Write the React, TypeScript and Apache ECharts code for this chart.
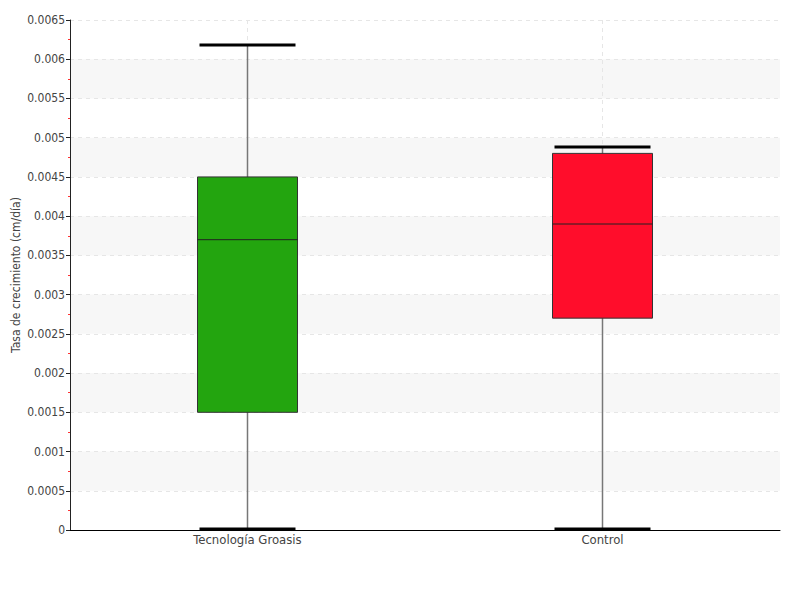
import React, { useEffect, useRef } from "react";
import * as echarts from "echarts";

const categories = ["Tecnología Groasis", "Control"];
const minValues = [0, 0];
const q1Values = [0.0015, 0.0027];
const medianValues = [0.0037, 0.0039];
const q3Values = [0.0045, 0.0048];
const maxValues = [0.00618, 0.00488];
const boxColors = ["#23a50f", "#ff0d2b"];

const FONT = "'Liberation Sans Narrow', 'DejaVu Sans Condensed', 'Roboto', sans-serif";

export default function App() {
  const ref = useRef<HTMLDivElement>(null);
  useEffect(() => {
    if (!ref.current) return;
    const chart = echarts.init(ref.current, undefined, { renderer: "svg" });
    const data = categories.map((c, i) => [i, minValues[i], q1Values[i], medianValues[i], q3Values[i], maxValues[i]]);
    chart.setOption({
      animation: false,
      grid: { left: 70, right: 20, top: 20, bottom: 70, containLabel: false, outerBoundsMode: "none" },
      xAxis: {
        type: "category",
        data: categories,
        axisLine: { lineStyle: { color: "#000", width: 1 } },
        axisTick: { show: false },
        axisLabel: { color: "#444", fontFamily: FONT, fontSize: 13, margin: 3 },
        splitLine: { show: true, alignWithLabel: true, lineStyle: { color: "#e6e6e6", type: [4, 4] } },
      },
      yAxis: {
        type: "value",
        min: 0,
        max: 0.0065,
        interval: 0.0005,
        name: "Tasa de crecimiento (cm/día)",
        nameLocation: "middle",
        nameGap: 48,
        nameMoveOverlap: false,
        nameTextStyle: { color: "#444", fontFamily: FONT, fontSize: 12 },
        axisLine: { show: true, lineStyle: { color: "#222" } },
        axisTick: { show: true, length: 4, lineStyle: { color: "#222" } },
        minorTick: { show: true, splitNumber: 2, length: 2, lineStyle: { color: "#ff3333" } },
        axisLabel: { color: "#444", fontFamily: FONT, fontSize: 12, margin: 5 },
        splitLine: { show: true, lineStyle: { color: "#e6e6e6", type: [4, 4] } },
        splitArea: { show: true, areaStyle: { color: ["rgba(255,255,255,0)", "#f7f7f7"] } },
      },
      series: [
        {
          type: "custom",
          data,
          renderItem: (params: any, api: any) => {
            const idx = api.value(0);
            const pMin = api.coord([idx, api.value(1)]);
            const pQ1 = api.coord([idx, api.value(2)]);
            const pMed = api.coord([idx, api.value(3)]);
            const pQ3 = api.coord([idx, api.value(4)]);
            const pMax = api.coord([idx, api.value(5)]);
            const x = pMed[0];
            const half = 50;
            const capHalf = 48;
            return {
              type: "group",
              children: [
                { type: "line", shape: { x1: x, y1: pMax[1], x2: x, y2: pMin[1] }, style: { stroke: "#777", lineWidth: 1.5 } },
                { type: "rect", shape: { x: x - half, y: pQ3[1], width: 2 * half, height: pQ1[1] - pQ3[1] }, style: { fill: boxColors[idx], stroke: "#333", lineWidth: 1 } },
                { type: "line", shape: { x1: x - half, y1: pMed[1], x2: x + half, y2: pMed[1] }, style: { stroke: "#222", lineWidth: 1 } },
                { type: "line", shape: { x1: x - capHalf, y1: pMax[1], x2: x + capHalf, y2: pMax[1] }, style: { stroke: "#000", lineWidth: 3 } },
                { type: "line", shape: { x1: x - capHalf, y1: pMin[1] - 1, x2: x + capHalf, y2: pMin[1] - 1 }, style: { stroke: "#000", lineWidth: 3 } },
              ],
            };
          },
        },
      ],
    });
    return () => chart.dispose();
  }, []);
  return <div ref={ref} style={{ width: 800, height: 600, position: "absolute", left: 0, top: 0 }} />;
}
